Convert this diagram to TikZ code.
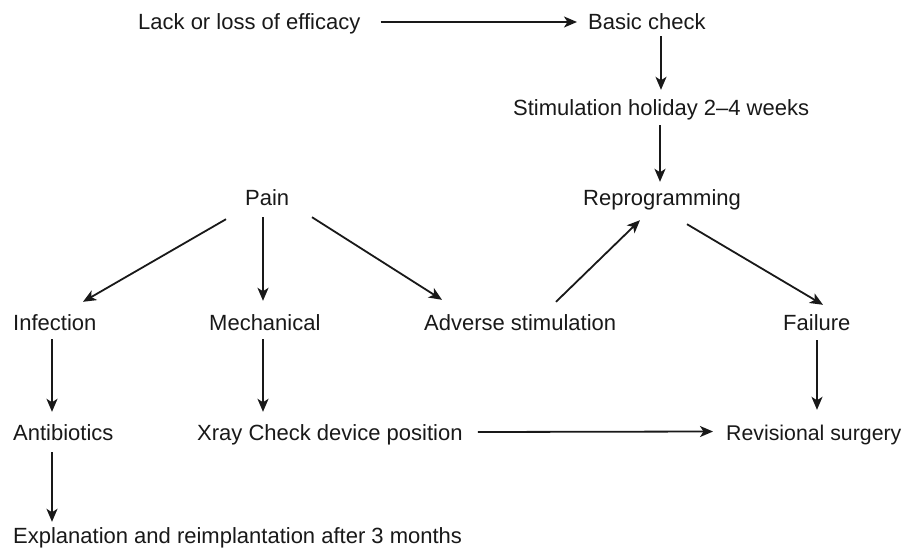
\documentclass[tikz,border=0pt]{standalone}
\usepackage{fontspec}
\setmainfont{Liberation Sans}
\usetikzlibrary{arrows.meta,calc}
\begin{document}
\begin{tikzpicture}[x=1pt,y=-1pt,
  lbl/.style={anchor=base west,inner sep=0pt,text height=16pt,text depth=5pt,font=\fontsize{22}{26}\selectfont,text=black!90},
  arr/.style={line width=1.8pt,-{Stealth[length=13pt,width=11pt,inset=3.5pt]},black!90}]
\useasboundingbox[fill=white] (0,0) rectangle (905,551);
\node[lbl] (lack) at (138,30) {Lack or loss of efficacy};
\node[lbl] (basic) at (588,30) {Basic check};
\node[lbl] (stim) at (513,115) {Stimulation holiday 2--4 weeks};
\node[lbl] (reprog) at (583,205) {Reprogramming};
\node[lbl] (pain) at (245,205) {Pain};
\node[lbl] (infect) at (13,330) {Infection};
\node[lbl] (mech) at (209,330) {Mechanical};
\node[lbl] (adverse) at (424,330) {Adverse stimulation};
\node[lbl] (failure) at (783,330) {Failure};
\node[lbl] (antib) at (13,440) {Antibiotics};
\node[lbl] (xray) at (197,440) {Xray Check device position};
\node[lbl,font=\fontsize{21.3}{26}\selectfont] (revis) at (726,440) {Revisional surgery};
\node[lbl] (expl) at (13,543) {Explanation and reimplantation after 3 months};

\draw[arr] ($(lack.east)+(20,-2.5)$) -- ($(basic.west)+(-11,-2.5)$);
\draw[arr] ($(basic.south west)+(73,1)$) -- ($(stim.north west)+(148,-9)$);
\draw[arr] ($(stim.south west)+(147,5)$) -- ($(reprog.north west)+(77,-7)$);
\draw[arr] ($(pain.south west)+(-19,9)$) -- ($(infect.north west)+(70,-12)$);
\draw[arr] ($(pain.south west)+(18,7)$) -- ($(mech.north west)+(54,-13)$);
\draw[arr] ($(pain.south west)+(67,7)$) -- ($(adverse.north west)+(18,-14)$);
\draw[arr] ($(adverse.north west)+(132,-12)$) -- ($(reprog.south west)+(57,10)$);
\draw[arr] ($(reprog.south west)+(104,14)$) -- ($(failure.north west)+(40,-9)$);
\draw[arr] ($(infect.south west)+(39,4)$) -- ($(antib.north west)+(39,-12)$);
\draw[arr] ($(mech.south west)+(54,4)$) -- ($(xray.north west)+(66,-12)$);
\draw[arr] ($(failure.south west)+(34,5)$) -- ($(revis.north west)+(91,-14)$);
\draw[arr] ($(xray.east)+(15,-2.5)$) -- ($(revis.west)+(-13,-3)$);
\draw[arr] ($(antib.south west)+(39,7)$) -- ($(expl.north west)+(39,-5)$);
\end{tikzpicture}
\end{document}
